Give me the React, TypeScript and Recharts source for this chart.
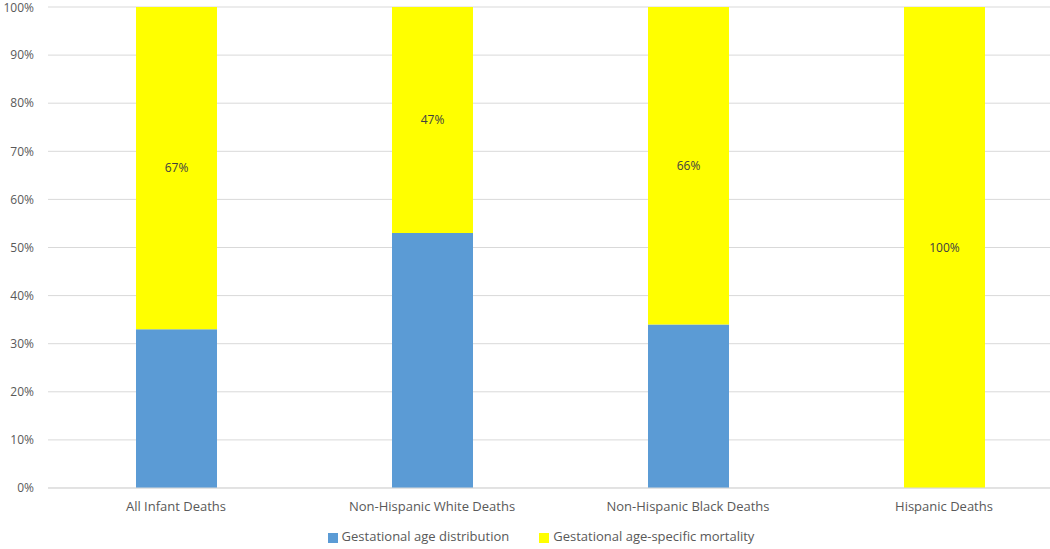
import { Bar, BarChart, CartesianGrid, LabelList, Legend, XAxis, YAxis } from "recharts";

const groups = ["All Infant Deaths", "Non-Hispanic White Deaths", "Non-Hispanic Black Deaths", "Hispanic Deaths"];
const distribution = [33, 53, 34, 0];
const mortality = [67, 47, 66, 100];
const yTicks = [0, 10, 20, 30, 40, 50, 60, 70, 80, 90, 100];

const data = groups.map((name, i) => ({ name, distribution: distribution[i], mortality: mortality[i] }));

const font = "'Open Sans', 'Noto Sans', sans-serif";

export default function App() {
  return (
    <div style={{ position: "absolute", left: 0, top: 0, width: 1050, height: 549, overflow: "hidden", background: "#fff", fontFamily: font }}>
      <BarChart width={1072} height={549} data={data} barSize={81} margin={{ top: 7, right: 0, bottom: 2, left: 0 }}>
        <CartesianGrid vertical={false} stroke="#D9D9D9" />
        <XAxis
          dataKey="name"
          height={39}
          axisLine={{ stroke: "#D9D9D9" }}
          tickLine={false}
          tickMargin={8}
          tick={{ fill: "#595959", fontSize: 13, fontFamily: font }}
          interval={0}
        />
        <YAxis
          width={48}
          domain={[0, 100]}
          ticks={yTicks}
          tickFormatter={(v) => `${v}%`}
          axisLine={false}
          tickLine={false}
          tickMargin={8}
          tick={{ fill: "#595959", fontSize: 12, fontFamily: font }}
        />
        <Legend
          verticalAlign="bottom"
          iconType="square"
          iconSize={10}
          wrapperStyle={{ height: 20, fontSize: 13, paddingLeft: 10 }}
          formatter={(value, _entry, index) => (
            <span style={{ color: "#595959", marginRight: index === 0 ? 20 : 0 }}>{value}</span>
          )}
        />
        <Bar dataKey="distribution" name="Gestational age distribution" stackId="a" fill="#5B9BD5" isAnimationActive={false} />
        <Bar dataKey="mortality" name="Gestational age-specific mortality" stackId="a" fill="#FFFF00" isAnimationActive={false}>
          <LabelList dataKey="mortality" position="center" formatter={(v: number) => `${v}%`} fill="#404040" fontSize={12} fontFamily={font} />
        </Bar>
      </BarChart>
    </div>
  );
}
